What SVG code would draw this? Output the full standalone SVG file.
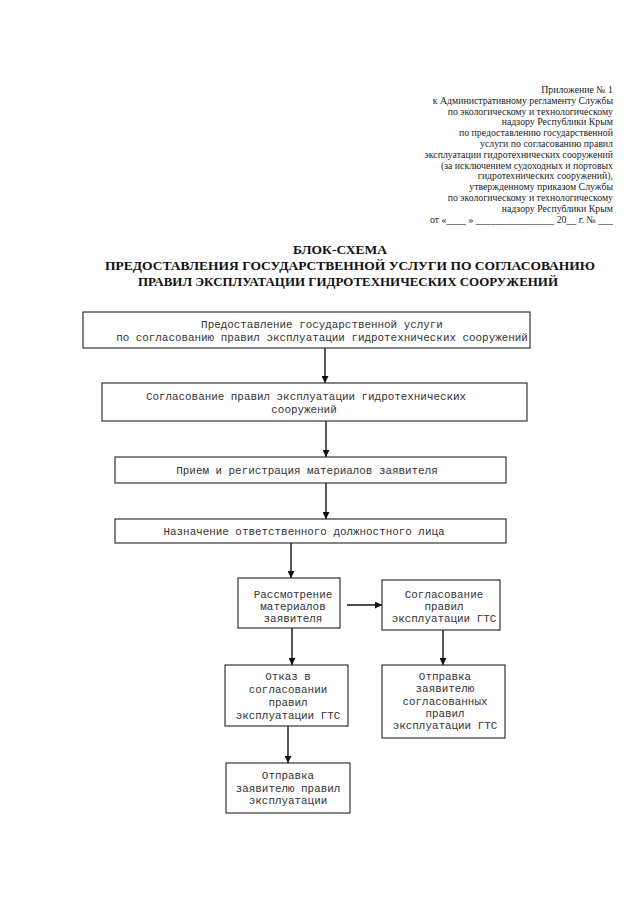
<svg xmlns="http://www.w3.org/2000/svg" width="640" height="900" viewBox="0 0 640 900">
<defs>
<style>
.hdr{font-family:"Liberation Serif","Times New Roman",serif;font-size:9.8px;fill:#222;text-anchor:end}
.ttl{font-family:"Liberation Serif","Times New Roman",serif;font-size:13.5px;font-weight:bold;fill:#111;text-anchor:middle}
.box{fill:#fff;stroke:#222;stroke-width:1.1}
.t{font-family:"Liberation Mono","Courier New",monospace;font-size:10.9px;fill:#333;text-anchor:middle}
.con{stroke:#111;stroke-width:1.4;fill:none;marker-end:url(#ah)}
</style>
<marker id="ah" viewBox="0 0 8 8" refX="8" refY="4" markerWidth="5" markerHeight="5" markerUnits="strokeWidth" orient="auto">
<path d="M0,0 L8,4 L0,8 z" fill="#111"/>
</marker>
</defs>
<rect width="640" height="900" fill="#fff"/>
<g id="header">
<text class="hdr" x="613" y="93">Приложение № 1</text>
<text class="hdr" x="613" y="103.8">к Административному регламенту Службы</text>
<text class="hdr" x="613" y="114.6">по экологическому и технологическому</text>
<text class="hdr" x="613" y="125.4">надзору Республики Крым</text>
<text class="hdr" x="613" y="136.2">по предоставлению государственной</text>
<text class="hdr" x="613" y="147">услуги по согласованию правил</text>
<text class="hdr" x="613" y="157.8">эксплуатации гидротехнических сооружений</text>
<text class="hdr" x="613" y="168.6">(за исключением судоходных и портовых</text>
<text class="hdr" x="613" y="179.4">гидротехнических сооружений),</text>
<text class="hdr" x="613" y="190.2">утвержденному приказом Службы</text>
<text class="hdr" x="613" y="201">по экологическому и технологическому</text>
<text class="hdr" x="613" y="211.8">надзору Республики Крым</text>
<text class="hdr" x="613" y="222.6">от «____ » ________________ 20__ г. № ___</text>
</g>
<g id="title">
<text class="ttl" x="340" y="254">БЛОК-СХЕМА</text>
<text class="ttl" x="350" y="270" textLength="490" lengthAdjust="spacingAndGlyphs">ПРЕДОСТАВЛЕНИЯ ГОСУДАРСТВЕННОЙ УСЛУГИ ПО СОГЛАСОВАНИЮ</text>
<text class="ttl" x="348" y="286" textLength="420" lengthAdjust="spacingAndGlyphs">ПРАВИЛ ЭКСПЛУАТАЦИИ ГИДРОТЕХНИЧЕСКИХ СООРУЖЕНИЙ</text>
</g>
<g id="connectors">
<line class="con" x1="325" y1="348" x2="325" y2="383"/>
<line class="con" x1="326" y1="421" x2="326" y2="457"/>
<line class="con" x1="326" y1="483" x2="326" y2="519"/>
<line class="con" x1="291" y1="543" x2="291" y2="578"/>
<line class="con" x1="347" y1="605" x2="382" y2="605"/>
<line class="con" x1="292" y1="628" x2="292" y2="665"/>
<line class="con" x1="443" y1="630" x2="443" y2="665"/>
<line class="con" x1="288" y1="726" x2="288" y2="763"/>
</g>
<g id="n1">
<rect class="box" x="83" y="312" width="447" height="36"/>
<text class="t" x="322" y="328">Предоставление государственной услуги</text>
<text class="t" x="322" y="341">по согласованию правил эксплуатации гидротехнических сооружений</text>
</g>
<g id="n2">
<rect class="box" x="102" y="383" width="425" height="38"/>
<text class="t" x="306" y="400">Согласование правил эксплуатации гидротехнических</text>
<text class="t" x="304" y="413">сооружений</text>
</g>
<g id="n3">
<rect class="box" x="115" y="457" width="391" height="26"/>
<text class="t" x="307" y="474">Прием и регистрация материалов заявителя</text>
</g>
<g id="n4">
<rect class="box" x="115" y="519" width="391" height="24"/>
<text class="t" x="304" y="535">Назначение ответственного должностного лица</text>
</g>
<g id="n5">
<rect class="box" x="238" y="578" width="102" height="50"/>
<text class="t" x="293" y="598">Рассмотрение</text>
<text class="t" x="293" y="610">материалов</text>
<text class="t" x="293" y="622">заявителя</text>
</g>
<g id="n6">
<rect class="box" x="382" y="580" width="118" height="50"/>
<text class="t" x="444" y="598">Согласование</text>
<text class="t" x="444" y="610">правил</text>
<text class="t" x="444" y="622">эксплуатации ГТС</text>
</g>
<g id="n7">
<rect class="box" x="225" y="665" width="123" height="61"/>
<text class="t" x="288" y="680">Отказ в</text>
<text class="t" x="288" y="693">согласовании</text>
<text class="t" x="288" y="706">правил</text>
<text class="t" x="288" y="719">эксплуатации ГТС</text>
</g>
<g id="n8">
<rect class="box" x="382" y="665" width="123" height="73"/>
<text class="t" x="445" y="680">Отправка</text>
<text class="t" x="445" y="692">заявителю</text>
<text class="t" x="445" y="705">согласованных</text>
<text class="t" x="445" y="717">правил</text>
<text class="t" x="445" y="729">эксплуатации ГТС</text>
</g>
<g id="n9">
<rect class="box" x="226" y="763" width="124" height="50"/>
<text class="t" x="288" y="779">Отправка</text>
<text class="t" x="288" y="792">заявителю правил</text>
<text class="t" x="288" y="804">эксплуатации</text>
</g>
</svg>
